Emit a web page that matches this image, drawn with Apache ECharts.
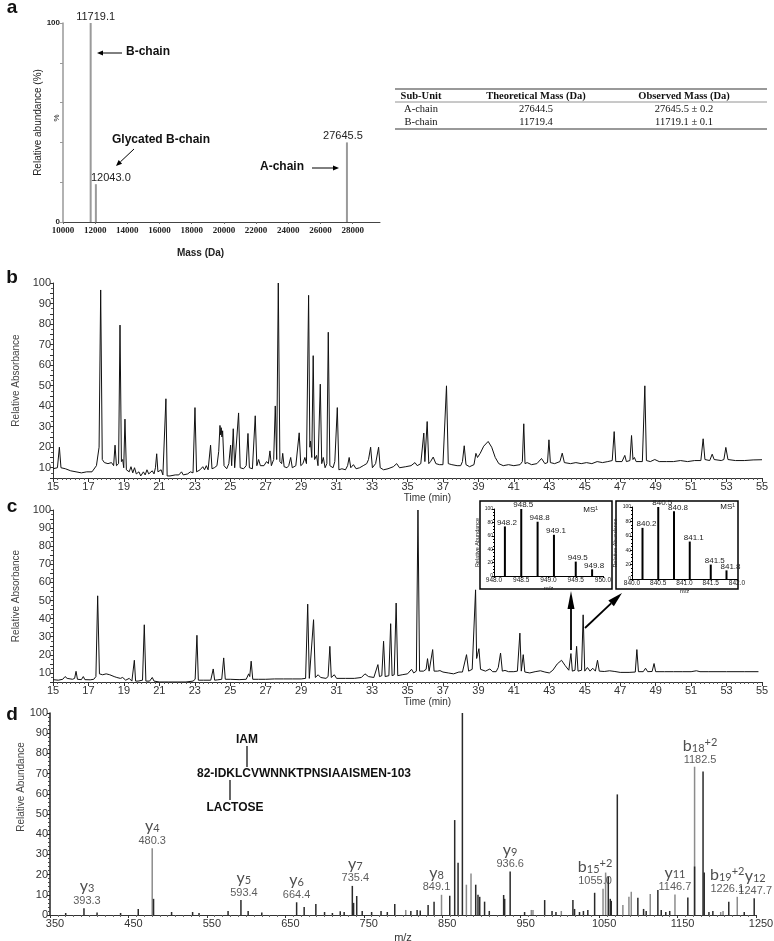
<!DOCTYPE html>
<html>
<head>
<meta charset="utf-8">
<title>Intact mass, peptide maps and MS/MS</title>
<script src="https://cdn.jsdelivr.net/npm/echarts@6/dist/echarts.min.js"></script>
<style>
  html, body { margin: 0; padding: 0; background: #fff; }
  #main { width: 774px; height: 941px; }
</style>
</head>
<body>
<div id="main"></div>
<script>
// ---------- panel a : deconvoluted intact mass ----------
const massA = [11719.1, 12043.0, 27645.5];
const abundA = [100, 19, 40];

// ---------- table ----------
const tableHeader = ['Sub-Unit', 'Theoretical Mass (Da)', 'Observed Mass (Da)'];
const tableUnits = ['A-chain', 'B-chain'];
const tableTheo = ['27644.5', '11719.4'];
const tableObs = ['27645.5 \u00b1 0.2', '11719.1 \u00b1 0.1'];

// ---------- panel b : UV trace, native ----------
const traceB = [
  [15.0, 9.5], [15.25, 10], [15.36, 20], [15.45, 10], [15.7, 9.5], [16.0, 8.5], [16.3, 8], [16.6, 7.5], [16.9, 8],
  [17.2, 8], [17.45, 11], [17.6, 20], [17.69, 96.6], [17.78, 14], [17.9, 12.5], [18.1, 12], [18.3, 12.5], [18.42, 11],
  [18.5, 21], [18.58, 11], [18.7, 12], [18.78, 79.5], [18.86, 13], [18.93, 14], [18.99, 10], [19.06, 33.7], [19.14, 9],
  [19.3, 8], [19.4, 10.5], [19.5, 7.5], [19.6, 10], [19.7, 7], [19.85, 8], [19.95, 6], [20.1, 8], [20.2, 6.5], [20.3, 9],
  [20.4, 7], [20.5, 6.5], [20.6, 8.5], [20.7, 7], [20.78, 10], [20.85, 16.8], [20.92, 8], [21.0, 7.5], [21.1, 9],
  [21.2, 6.5], [21.3, 7], [21.37, 43.6], [21.44, 6], [21.6, 6], [21.9, 6.5], [22.1, 6.5], [22.25, 8], [22.35, 6.5],
  [22.6, 7], [22.75, 8], [22.9, 7.5], [23.01, 39.3], [23.1, 8], [23.3, 9], [23.45, 10.5], [23.55, 9], [23.65, 11],
  [23.75, 9], [23.89, 21], [23.97, 9.5], [24.1, 10], [24.25, 11], [24.35, 18], [24.42, 30.6], [24.46, 26], [24.49, 29.5],
  [24.53, 25], [24.57, 28], [24.65, 11], [24.8, 9.5], [24.92, 12], [25.02, 21], [25.08, 11], [25.17, 29], [25.25, 10],
  [25.35, 9.5], [25.47, 36.7], [25.56, 10], [25.75, 9.5], [25.9, 11], [26.0, 26.7], [26.08, 10], [26.25, 9.5],
  [26.41, 35.3], [26.5, 11], [26.6, 14], [26.7, 11], [26.9, 11], [27.05, 13], [27.15, 12], [27.24, 18.2], [27.32, 11],
  [27.45, 14], [27.54, 40.1], [27.62, 14], [27.71, 100], [27.8, 13], [27.9, 12], [27.96, 17], [28.04, 10.5], [28.2, 10],
  [28.3, 11], [28.41, 15], [28.5, 10], [28.7, 11], [28.89, 27], [28.98, 11], [29.1, 12], [29.21, 15], [29.3, 12],
  [29.42, 94], [29.49, 20], [29.53, 23], [29.6, 15], [29.68, 64.6], [29.76, 14], [29.87, 16], [29.95, 11], [30.08, 50.7],
  [30.16, 12], [30.25, 15], [30.35, 10], [30.45, 12], [30.53, 76], [30.62, 11], [30.8, 10], [30.9, 13], [31.04, 39.3],
  [31.13, 9], [31.3, 9.5], [31.5, 9], [31.62, 11], [31.71, 15], [31.8, 10], [31.95, 11.5], [32.1, 9.5], [32.3, 10],
  [32.5, 11], [32.7, 12], [32.8, 14], [32.92, 20], [33.02, 10], [33.2, 12], [33.37, 20], [33.46, 10], [33.65, 9],
  [33.9, 9.5], [34.2, 10.5], [34.39, 12], [34.55, 10], [34.9, 10.5], [35.2, 11], [35.42, 12.5], [35.55, 11], [35.75, 12],
  [35.92, 26.9], [35.98, 13], [36.11, 32.5], [36.2, 12], [36.3, 13], [36.45, 15.2], [36.6, 12], [36.8, 11.5], [37.0, 11.5],
  [37.1, 12], [37.2, 49.9], [37.3, 12], [37.5, 11.5], [37.8, 11], [38.0, 11], [38.1, 13], [38.2, 20.7], [38.3, 11.5],
  [38.5, 10.5], [38.75, 11.5], [38.86, 17], [38.95, 15], [39.1, 17], [39.3, 20.5], [39.55, 22.8], [39.75, 20], [39.95, 15],
  [40.15, 12], [40.4, 11], [40.7, 11.5], [41.0, 11], [41.35, 11.5], [41.48, 13], [41.56, 31.4], [41.63, 12], [41.75, 12.5],
  [42.0, 11.5], [42.3, 12], [42.56, 14.5], [42.75, 12], [42.9, 12.5], [42.98, 23.6], [43.06, 12.5], [43.3, 12], [43.6, 13],
  [43.73, 17.1], [43.85, 12.5], [44.2, 12], [44.5, 12.5], [44.8, 12], [45.1, 12.5], [45.4, 12], [45.7, 13], [46.0, 12.5],
  [46.3, 13], [46.55, 13.5], [46.66, 27.6], [46.75, 13], [47.1, 13], [47.26, 16], [47.35, 13], [47.55, 13.5], [47.64, 25.7],
  [47.72, 14], [47.8, 15], [47.9, 13], [48.25, 13], [48.39, 49.9], [48.48, 13.5], [48.7, 13], [48.95, 14], [49.2, 13],
  [49.6, 13], [50.0, 13], [50.4, 13.5], [50.8, 13], [51.2, 13.5], [51.55, 13.5], [51.68, 24.1], [51.78, 14], [52.05, 13.5],
  [52.19, 16.6], [52.3, 14], [52.7, 13.5], [52.85, 14], [52.96, 19.9], [53.08, 14], [53.5, 13.5], [54.0, 13.5], [54.5, 13.8],
  [55.0, 13.9]
];

// ---------- panel c : UV trace, glycated ----------
const traceC = [
  [15.0, 6.3], [15.3, 6], [15.55, 6.5], [15.68, 8], [15.8, 7], [16.1, 6.5], [16.22, 7], [16.3, 10.9], [16.38, 6.5],
  [16.6, 6.3], [16.71, 8], [16.8, 6.3], [17.1, 6.2], [17.3, 6.5], [17.42, 8], [17.52, 52.6], [17.62, 9.5], [17.8, 9],
  [18.0, 9.5], [18.2, 9], [18.45, 8], [18.6, 7.5], [18.71, 8.5], [18.8, 7], [18.93, 7.5], [19.1, 6], [19.3, 7], [19.45, 5.5],
  [19.52, 6], [19.59, 17], [19.66, 5.5], [19.8, 5.5], [20.05, 6], [20.15, 36.6], [20.24, 5.5], [20.45, 5.5], [20.6, 7.5],
  [20.7, 5.5], [21.0, 5], [21.5, 5], [22.0, 5], [22.5, 5], [22.9, 5.5], [23.02, 6.5], [23.12, 30.8], [23.2, 6], [23.5, 6],
  [23.9, 6], [24.04, 12.2], [24.12, 6], [24.3, 6.2], [24.52, 6.5], [24.63, 18.3], [24.72, 6.5], [25.0, 6.5], [25.5, 6.3],
  [25.9, 6.5], [26.04, 9.5], [26.1, 8], [26.18, 16.5], [26.27, 6.5], [26.6, 6.5], [27.0, 6.5], [27.5, 6.7], [28.0, 6.7],
  [28.5, 6.7], [29.0, 6.7], [29.25, 7], [29.37, 48], [29.46, 7], [29.55, 7.5], [29.7, 39.4], [29.8, 7.5], [29.96, 9],
  [30.1, 7.5], [30.4, 7], [30.52, 8], [30.62, 24.7], [30.7, 7.5], [30.87, 9], [31.0, 7], [31.5, 7], [32.0, 7], [32.4, 7.5],
  [32.6, 9.5], [32.8, 8], [33.1, 7.5], [33.2, 8], [33.33, 14.6], [33.42, 8], [33.55, 8.5], [33.65, 27.5], [33.74, 8],
  [33.95, 8.5], [34.05, 37.2], [34.13, 8.5], [34.25, 9], [34.36, 48.6], [34.45, 8.5], [34.7, 9], [35.0, 9.5], [35.23, 12],
  [35.35, 10], [35.5, 11], [35.59, 100], [35.68, 11], [35.9, 11], [36.05, 12], [36.13, 17.9], [36.22, 11], [36.32, 12],
  [36.42, 22.9], [36.5, 11], [36.7, 11], [36.83, 11.3], [37.0, 10.5], [37.3, 10], [37.6, 9.5], [37.9, 10.5], [38.1, 10.5],
  [38.33, 20.1], [38.45, 11], [38.65, 12], [38.84, 55.9], [38.9, 18], [38.95, 20], [39.03, 23.4], [39.12, 12], [39.4, 11],
  [39.65, 12.2], [39.8, 10.7], [40.0, 10.7], [40.12, 13], [40.25, 21], [40.35, 11], [40.5, 11.4], [40.7, 10.7], [41.0, 10.7],
  [41.2, 11], [41.34, 32], [41.42, 11], [41.53, 20.1], [41.62, 10.5], [41.9, 10], [42.2, 10.7], [42.5, 11.2], [42.75, 10.5],
  [43.0, 10], [43.2, 11.5], [43.45, 15], [43.69, 17], [43.9, 14], [44.1, 11.5], [44.22, 20.7], [44.3, 11], [44.45, 11.5],
  [44.54, 24.7], [44.62, 11], [44.82, 11.5], [44.91, 42.1], [45.0, 11], [45.15, 13], [45.3, 11], [45.45, 12.6], [45.6, 11],
  [45.72, 17], [45.82, 11], [46.1, 10.8], [46.4, 11.2], [46.7, 10.8], [47.0, 10.3], [47.5, 10.3], [47.85, 10.5], [47.94, 22.9],
  [48.03, 10.7], [48.3, 10.7], [48.43, 12.6], [48.55, 10.7], [48.8, 10.8], [48.91, 15.2], [49.0, 10.7], [49.5, 10.7],
  [50.0, 10.7], [50.5, 10.7], [51.0, 10.7], [51.3, 11.2], [51.5, 10.7], [52.0, 10.7], [53.0, 10.7], [54.0, 10.7], [54.8, 10.7]
];

// MS1 insets (isotope clusters)
const insetMzL = [948.2, 948.5, 948.8, 949.1, 949.5, 949.8];
const insetIntL = [74, 100, 81, 61.5, 21.5, 10];
const insetMzR = [840.2, 840.5, 840.8, 841.1, 841.5, 841.8];
const insetIntR = [71, 100, 94, 52, 20, 12];

// ---------- panel d : MS/MS spectrum ----------
const mzGray = [480.3, 803.5, 849.1, 880.8, 886.7, 963.6, 965.7, 1001.8, 1055.0, 1058.3, 1080.3, 1088, 1091,
  1115.2, 1146.7, 1171.7, 1205, 1208, 1226.1];
const intGray = [33, 2.5, 10, 15, 20.6, 2.5, 2.5, 2, 13, 21, 5, 9, 11.5, 10.4, 10.2, 73.4, 1.5, 2, 9];
const mzDark = [370, 393.3, 410, 440, 462.5, 482, 505, 531.8, 540, 577, 593.4, 602.6, 620, 664.4, 674, 688.9, 700,
  710, 720, 725, 735.4, 737, 741, 748, 760, 772, 780, 789.5, 810, 818, 822, 832, 839.6, 859.6, 865.9, 870.2, 875.7,
  892.7, 895.6, 897.8, 904, 910, 928.3, 929.6, 936.6, 955, 980.6, 990, 995, 1016.6, 1018.7, 1025, 1030, 1035.6, 1044.3,
  1061.7, 1064.2, 1065.5, 1073.2, 1099.4, 1106.7, 1110, 1124.9, 1129.2, 1135, 1140, 1163.1, 1171.7, 1182.5, 1184, 1190,
  1195, 1215.3, 1235, 1247.7];
const intDark = [1, 3.3, 1.2, 1, 3, 8, 1.5, 1.5, 1, 2, 7.4, 2, 1.2, 6.3, 4, 5.4, 1.5,
  1, 1.8, 1.5, 14.4, 6, 9.4, 2, 1.5, 2, 1.5, 5.4, 2, 2.5, 2.2, 5, 6.6, 9.5, 47, 25.9, 100,
  15, 10, 9, 6.6, 2, 9.9, 8, 21.5, 1.5, 7.4, 2, 1.5, 7.4, 3, 1.5, 2, 2.5, 11,
  19, 8, 7, 59.7, 8.5, 3, 2, 12.4, 2.5, 1.5, 2, 8.7, 24, 71, 21, 1.5,
  2, 6.6, 1.5, 8.3];

// annotated fragment ions
const ionBase = ['y', 'y', 'y', 'y', 'y', 'y', 'y', 'b', 'y', 'b', 'b', 'y'];
const ionSub = ['3', '4', '5', '6', '7', '8', '9', '15', '11', '18', '19', '12'];
const ionSup = ['', '', '', '', '', '', '', '+2', '', '+2', '+2', ''];
const ionMz = [393.3, 480.3, 593.4, 664.4, 735.4, 849.1, 936.6, 1055.0, 1146.7, 1182.5, 1226.1, 1247.7];
const ionTop = [3.3, 33, 7.4, 6.3, 14.4, 10, 21.5, 13, 10.2, 73, 9, 8.3];

// ---------------------------------------------------------
const FF = 'Liberation Sans';
const chart = echarts.init(document.getElementById('main'));

function arrow(x1, y1, x2, y2, len, half, w) {
  const a = Math.atan2(y2 - y1, x2 - x1);
  const bx = x2 - len * Math.cos(a), by = y2 - len * Math.sin(a);
  const px = -Math.sin(a) * half, py = Math.cos(a) * half;
  return [
    { type: 'line', shape: { x1: x1, y1: y1, x2: bx, y2: by }, style: { stroke: '#000', lineWidth: w } },
    { type: 'polygon', shape: { points: [[x2, y2], [bx + px, by + py], [bx - px, by - py]] }, style: { fill: '#000' } }
  ];
}
function txt(x, y, s, font, opts) {
  opts = opts || {};
  const al = opts.align || 'center';
  return {
    type: 'text', x: x, y: y, rotation: opts.rotation || 0,
    style: { text: s, font: font, fill: opts.fill || '#111', textAlign: al, align: al, textVerticalAlign: 'middle', verticalAlign: 'middle' }
  };
}
function hline(x1, x2, y, w, c) {
  return { type: 'line', shape: { x1: x1, y1: y, x2: x2, y2: y }, style: { stroke: c || '#000', lineWidth: w } };
}

const grids = [
  { left: 63, top: 23, width: 317, height: 199 },
  { left: 53, top: 283, width: 709, height: 195 },
  { left: 53, top: 510, width: 709, height: 172 },
  { left: 50, top: 713, width: 706, height: 202 },
  { left: 494, top: 509, width: 109, height: 67 },
  { left: 632, top: 507, width: 105, height: 72 }
].map(g => Object.assign({ outerBoundsMode: 'none', containLabel: false }, g));

const plain = v => String(v);
const timeAxis = (gi, gap) => ({
  gridIndex: gi, type: 'value', min: 15, max: 55, interval: 2,
  axisLine: { lineStyle: { color: '#333', width: 1 } },
  axisTick: { show: true, length: 4, lineStyle: { color: '#333' } },
  minorTick: { show: true, splitNumber: 8, length: 2, lineStyle: { color: '#555' } },
  axisLabel: { fontFamily: FF, fontSize: 11, color: '#333', margin: 3, hideOverlap: false, formatter: plain },
  splitLine: { show: false }, minorSplitLine: { show: false },
  name: 'Time (min)', nameLocation: 'middle', nameGap: gap,
  nameTextStyle: { fontFamily: FF, fontSize: 10, color: '#333', padding: [0, 0, 0, 40] }
});
const absAxis = (gi, gap) => ({
  gridIndex: gi, type: 'value', min: 5, max: 100, interval: 5,
  axisLine: { show: true, lineStyle: { color: '#333', width: 1 } },
  axisTick: { show: true, length: 3, lineStyle: { color: '#333' } },
  minorTick: { show: true, splitNumber: 2, length: 2, lineStyle: { color: '#555' } },
  axisLabel: { fontFamily: FF, fontSize: 11, color: '#333', margin: 2, formatter: v => (v % 10 === 0 ? String(v) : '') },
  splitLine: { show: false }, minorSplitLine: { show: false },
  name: 'Relative Absorbance', nameLocation: 'middle', nameGap: gap,
  nameTextStyle: { fontFamily: FF, fontSize: 10, color: '#444' }
});
const insetX = (gi, lo) => ({
  gridIndex: gi, type: 'value', min: lo, max: lo + 2, interval: 0.5,
  axisLine: { lineStyle: { color: '#000', width: 1 } },
  axisTick: { show: true, length: 2, lineStyle: { color: '#000' } },
  axisLabel: { fontFamily: FF, fontSize: 6.5, color: '#222', margin: 1, formatter: v => v.toFixed(1) },
  splitLine: { show: false },
  name: 'm/z', nameLocation: 'middle', nameGap: 7, nameTextStyle: { fontFamily: FF, fontSize: 6, color: '#222' }
});
const insetY = gi => ({
  gridIndex: gi, type: 'value', min: 0, max: 100, interval: 20,
  axisLine: { show: true, lineStyle: { color: '#000', width: 1 } },
  axisTick: { show: true, length: 2, lineStyle: { color: '#000' } },
  minorTick: { show: true, splitNumber: 4, length: 1, lineStyle: { color: '#000' } },
  axisLabel: { fontFamily: FF, fontSize: 5, color: '#222', margin: 1 },
  splitLine: { show: false }, minorSplitLine: { show: false },
  name: 'Relative Abundance', nameLocation: 'middle', nameGap: 8, nameTextStyle: { fontFamily: FF, fontSize: 5.5, color: '#222' }
});

const labelOffsetA = [[5, 0], [15, 0], [-4, 0]];
const ionLabelShift = [3, 0, 3, 0, 3, -5, 0, -8, 0, -3, -10, 1];
const insetLabel = (dx) => ({
  show: true, position: 'top', distance: 0, offset: [dx, 0],
  fontFamily: FF, fontSize: 8, color: '#222', formatter: p => p.value[0].toFixed(1)
});

const ionRich = {
  ion: { fontFamily: 'Lato', fontSize: 16, color: '#222', lineHeight: 17, verticalAlign: 'bottom' },
  sub: { fontFamily: 'Lato', fontSize: 11, color: '#222', lineHeight: 17, verticalAlign: 'bottom' },
  sup: { fontFamily: 'Lato', fontSize: 11, color: '#222', lineHeight: 17, verticalAlign: 'top' },
  num: { fontFamily: FF, fontSize: 11, color: '#333', lineHeight: 13 }
};

// graphic layer: panel letters, table, annotations, inset frames, arrows
const g = [];
[['a', 8], ['b', 278], ['c', 507], ['d', 715]].forEach(p => g.push(txt(12, p[1], p[0], 'bold 19px "Liberation Sans"')));
// table
g.push(hline(395, 767, 89, 1.5, '#777'), hline(395, 767, 102, 0.8, '#777'), hline(395, 767, 129, 1.5, '#777'));
const colX = [421, 536, 684];
tableHeader.forEach((h, i) => g.push(txt(colX[i], 96, h, 'bold 10.5px "Liberation Serif"')));
tableUnits.forEach((u, r) => {
  const y = 109 + r * 13;
  g.push(txt(colX[0], y, u, '10.5px "Liberation Serif"'));
  g.push(txt(colX[1], y, tableTheo[r], '10.5px "Liberation Serif"'));
  g.push(txt(colX[2], y, tableObs[r], '10.5px "Liberation Serif"'));
});
// panel a annotations
g.push(txt(148, 52, 'B-chain', 'bold 12px "Liberation Sans"'));
g.push(...arrow(122, 53, 97, 53, 6, 2.5, 1));
g.push(txt(161, 140, 'Glycated B-chain', 'bold 12px "Liberation Sans"'));
g.push(...arrow(134, 149, 116, 166, 6, 2.5, 1));
g.push(txt(282, 167, 'A-chain', 'bold 12px "Liberation Sans"'));
g.push(...arrow(312, 168, 339, 168, 6, 2.5, 1));
g.push(txt(57, 118, '%', '8px "Liberation Sans"', { rotation: Math.PI / 2 }));
// insets in panel c
g.push({ type: 'rect', shape: { x: 480, y: 501, width: 132, height: 88 }, style: { fill: 'none', stroke: '#000', lineWidth: 1.5 } });
g.push({ type: 'rect', shape: { x: 616, y: 501, width: 122, height: 88 }, style: { fill: 'none', stroke: '#000', lineWidth: 1.5 } });
g.push(txt(598, 510, 'MS\u00b9', '8px "Liberation Sans"', { align: 'right' }));
g.push(txt(735, 507, 'MS\u00b9', '8px "Liberation Sans"', { align: 'right' }));
g.push(...arrow(571, 650, 571, 591, 18, 3.5, 1.8));
g.push(...arrow(585, 628, 622, 593, 15, 4, 1.8));
// panel d peptide annotation
g.push(txt(247, 740, 'IAM', 'bold 12px "Liberation Sans"'));
g.push({ type: 'line', shape: { x1: 247, y1: 746, x2: 247, y2: 767 }, style: { stroke: '#000', lineWidth: 1.2 } });
g.push(txt(304, 774, '82-IDKLCVWNNKTPNSIAAISMEN-103', 'bold 12px "Liberation Sans"'));
g.push({ type: 'line', shape: { x1: 230, y1: 780, x2: 230, y2: 800 }, style: { stroke: '#000', lineWidth: 1.2 } });
g.push(txt(235, 808, 'LACTOSE', 'bold 12px "Liberation Sans"'));
g.push(txt(21, 787, 'Relative Abundance', '10px "Liberation Sans"', { rotation: Math.PI / 2, fill: '#444' }));

chart.setOption({
  animation: false,
  backgroundColor: '#fff',
  grid: grids,
  xAxis: [
    {
      gridIndex: 0, type: 'value', min: 10000, max: 29700, interval: 2000,
      axisLine: { lineStyle: { color: '#444', width: 1 } },
      axisTick: { show: true, length: 2, lineStyle: { color: '#666' } },
      axisLabel: { fontFamily: 'Liberation Sans Narrow', fontWeight: 'bold', fontSize: 9, color: '#222', margin: 4, showMaxLabel: false, hideOverlap: false, formatter: plain },
      splitLine: { show: false },
      name: 'Mass (Da)', nameLocation: 'middle', nameGap: 26,
      nameTextStyle: { fontFamily: FF, fontWeight: 'bold', fontSize: 10, color: '#222', padding: [0, 42, 0, 0] }
    },
    timeAxis(1, 12),
    timeAxis(2, 13),
    {
      gridIndex: 3, type: 'value', min: 350, max: 1250, interval: 100,
      axisLine: { lineStyle: { color: '#333', width: 1 } },
      axisTick: { show: true, length: 3, lineStyle: { color: '#333' } },
      minorTick: { show: true, splitNumber: 10, length: 2, lineStyle: { color: '#666' } },
      axisLabel: { fontFamily: FF, fontSize: 11, color: '#333', margin: 3, padding: [0, 0, 0, 10], hideOverlap: false, formatter: plain },
      splitLine: { show: false }, minorSplitLine: { show: false },
      name: 'm/z', nameLocation: 'middle', nameGap: 17,
      nameTextStyle: { fontFamily: FF, fontSize: 11, color: '#333' }
    },
    insetX(4, 948),
    insetX(5, 840)
  ],
  yAxis: [
    {
      gridIndex: 0, type: 'value', min: 0, max: 100, interval: 20,
      axisLine: { show: true, lineStyle: { color: '#999', width: 1.5 } },
      axisTick: { show: true, length: 3, lineStyle: { color: '#999' } },
      axisLabel: { fontFamily: FF, fontWeight: 'bold', fontSize: 8, color: '#222', margin: 3, formatter: v => (v === 0 || v === 100 ? String(v) : '') },
      splitLine: { show: false },
      name: 'Relative abundance (%)', nameLocation: 'middle', nameGap: 18,
      nameTextStyle: { fontFamily: FF, fontSize: 10, color: '#222' }
    },
    absAxis(1, 15),
    absAxis(2, 21),
    {
      gridIndex: 3, type: 'value', min: 0, max: 100, interval: 10,
      axisLine: { show: true, lineStyle: { color: '#222', width: 1.5 } },
      axisTick: { show: true, length: 3, lineStyle: { color: '#222' } },
      minorTick: { show: true, splitNumber: 5, length: 2, lineStyle: { color: '#444' } },
      axisLabel: { fontFamily: FF, fontSize: 11, color: '#333', margin: 2, formatter: plain },
      splitLine: { show: false }, minorSplitLine: { show: false }
    },
    insetY(4),
    insetY(5)
  ],
  series: [
    {
      type: 'bar', xAxisIndex: 0, yAxisIndex: 0, barWidth: 2, silent: true,
      itemStyle: { color: '#9a9a9a' },
      data: massA.map((m, i) => ({
        value: [m, abundA[i]],
        label: { show: true, position: 'top', distance: 1, offset: labelOffsetA[i], fontFamily: FF, fontSize: 11, color: '#222', formatter: m.toFixed(1) }
      }))
    },
    {
      type: 'line', xAxisIndex: 1, yAxisIndex: 1, showSymbol: false, silent: true,
      lineStyle: { color: '#111', width: 1 }, data: traceB
    },
    {
      type: 'line', xAxisIndex: 2, yAxisIndex: 2, showSymbol: false, silent: true,
      lineStyle: { color: '#111', width: 1 }, data: traceC
    },
    {
      type: 'bar', xAxisIndex: 3, yAxisIndex: 3, barWidth: 1.5, barGap: '-100%', silent: true,
      itemStyle: { color: '#8c8c8c' },
      data: mzGray.map((m, i) => [m, intGray[i]])
    },
    {
      type: 'bar', xAxisIndex: 3, yAxisIndex: 3, barWidth: 1.5, barGap: '-100%', silent: true,
      itemStyle: { color: '#2a2a2a' },
      data: mzDark.map((m, i) => [m, intDark[i]])
    },
    {
      type: 'scatter', xAxisIndex: 3, yAxisIndex: 3, symbolSize: 0, silent: true, z: 5,
      data: ionMz.map((m, i) => ({
        value: [m, ionTop[i]],
        label: {
          show: true, position: 'top', distance: 1, align: 'center', offset: [ionLabelShift[i], 0], rich: ionRich,
          formatter: '{ion|' + ionBase[i] + '}{sub|' + ionSub[i] + '}' + (ionSup[i] ? '{sup|' + ionSup[i] + '}' : '') + '\n{num|' + m.toFixed(1) + '}'
        }
      }))
    },
    {
      type: 'bar', xAxisIndex: 4, yAxisIndex: 4, barWidth: 2, silent: true,
      itemStyle: { color: '#000' }, label: insetLabel(2),
      data: insetMzL.map((m, i) => [m, insetIntL[i]])
    },
    {
      type: 'bar', xAxisIndex: 5, yAxisIndex: 5, barWidth: 2, silent: true,
      itemStyle: { color: '#000' }, label: insetLabel(4),
      data: insetMzR.map((m, i) => [m, insetIntR[i]])
    }
  ],
  graphic: { elements: g }
});
</script>
</body>
</html>
